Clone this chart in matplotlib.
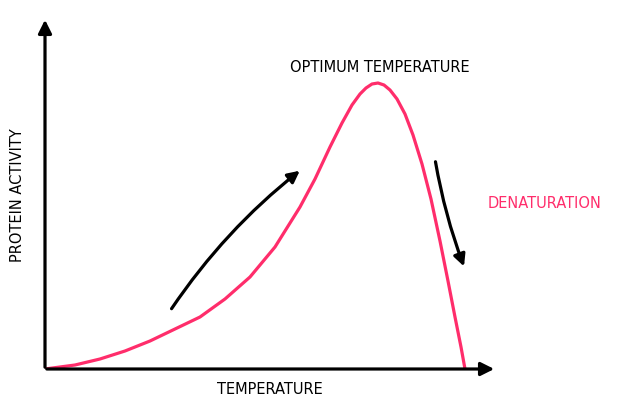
import matplotlib.pyplot as plt

# curve (temperature, activity)
temperature = [0, 30, 55, 80, 105, 130, 155, 180, 205, 230, 255, 270, 285, 297, 307, 315,
               321, 327, 333, 339, 345, 352, 360, 368, 377, 386, 395, 403, 410, 416, 420]
activity = [0, 4, 10, 18, 28, 40, 52, 70, 92, 122, 162, 190, 222, 246, 264, 275,
            281, 285, 286, 284, 279, 270, 255, 234, 205, 170, 128, 88, 52, 22, 0]

PINK = "#ff2d6b"

fig = plt.figure(figsize=(6.3, 4.14), dpi=100)
ax = fig.add_axes([45 / 630, 44 / 414, 585 / 630, 370 / 414])
ax.set_xlim(0, 585)
ax.set_ylim(0, 370)
ax.axis("off")

ax.plot(temperature, activity, color=PINK, lw=2.3, solid_capstyle="round",
        solid_joinstyle="round")

# axes with arrow heads
arrow_kw = dict(arrowstyle="-|>,head_length=0.8,head_width=0.4", color="black", lw=2.3)
ax.annotate("", xy=(0, 352), xytext=(0, -1), arrowprops=arrow_kw, annotation_clip=False)
ax.annotate("", xy=(452, 0), xytext=(-1, 0), arrowprops=arrow_kw, annotation_clip=False)

# trend arrows
curve_kw = dict(arrowstyle="-|>,head_length=0.7,head_width=0.35", color="black", lw=2.3)
ax.annotate("", xy=(257, 200), xytext=(125, 58),
            arrowprops=dict(connectionstyle="arc3,rad=-0.08", **curve_kw))
ax.annotate("", xy=(420, 100), xytext=(390, 210),
            arrowprops=dict(connectionstyle="arc3,rad=0.05", **curve_kw))

text_kw = dict(fontsize=10.5, ha="center", va="center")
ax.text(335, 302, "OPTIMUM TEMPERATURE", color="black", **text_kw)
ax.text(500, 166, "DENATURATION", color=PINK, **text_kw)
ax.text(225, -20, "TEMPERATURE", color="black", clip_on=False, **text_kw)
ax.text(-27, 175, "PROTEIN ACTIVITY", color="black", rotation=90, clip_on=False, **text_kw)

fig.savefig("out.png", dpi=100)
